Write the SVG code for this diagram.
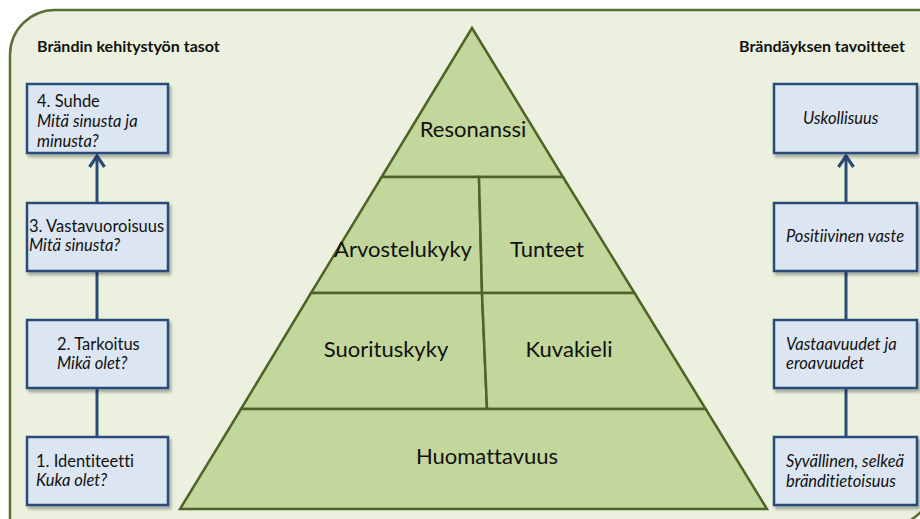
<svg xmlns="http://www.w3.org/2000/svg" width="920" height="519" viewBox="0 0 920 519">
  <defs>
    <style>
      .panel { fill: #EBF1DE; stroke: #5A7030; stroke-width: 2.5; }
      .tier { fill: #C3D69B; stroke: #4F6228; stroke-width: 2.5; stroke-linejoin: miter; }
      .box { fill: #DCE6F2; stroke: #2B4B77; stroke-width: 2.5; filter: url(#shadow); }
      .link { stroke: #2B4B77; stroke-width: 3; fill: none; }
      text { font-variant-ligatures: none; font-family: Lato, "Liberation Sans", sans-serif; fill: #111; }
      .head { font-weight: bold; font-size: 16px; }
      .txt { font-size: 16.5px; }
      .it { font-style: italic; }
      .lvl { font-size: 22px; text-anchor: middle; }
    </style>
    <filter id="shadow" x="-10%" y="-10%" width="125%" height="130%">
      <feDropShadow dx="2" dy="3" stdDeviation="1.8" flood-color="#000" flood-opacity="0.3"/>
    </filter>
    <!-- open chevron arrowhead, drawn along +x so orient="auto" turns it with the line -->
    <marker id="arrowUp" viewBox="0 0 16 18" refX="13" refY="9" markerWidth="16" markerHeight="18" markerUnits="userSpaceOnUse" orient="auto">
      <path d="M2,1.5 L13,9 L2,16.5" fill="none" stroke="#2B4B77" stroke-width="3.2"/>
    </marker>
  </defs>

  <!-- background panel with diagonal rounded corners -->
  <path class="panel" d="M10,55 A45,45 0 0 1 55,10 L935,10 L935,477 A50,50 0 0 1 885,527 L10,527 Z"/>

  <!-- column headings -->
  <g id="heading-left"><text class="head" x="37" y="52">Brändin kehitystyön tasot</text></g>
  <g id="heading-right"><text class="head" x="905" y="52" text-anchor="end">Brändäyksen tavoitteet</text></g>

  <!-- connectors -->
  <g id="connectors">
    <line class="link" x1="97" y1="203" x2="97" y2="156" marker-end="url(#arrowUp)"/>
    <line class="link" x1="97" y1="271" x2="97" y2="320"/>
    <line class="link" x1="97" y1="388" x2="97" y2="437"/>
    <line class="link" x1="846" y1="203" x2="846" y2="156" marker-end="url(#arrowUp)"/>
    <line class="link" x1="846" y1="271" x2="846" y2="320"/>
    <line class="link" x1="846" y1="385" x2="846" y2="437"/>
  </g>

  <!-- pyramid tiers -->
  <g id="tier-resonanssi">
    <polygon class="tier" points="472,28 563,177 381.6,177"/>
    <text class="lvl" x="473" y="137">Resonanssi</text>
  </g>
  <g id="tier-arvostelukyky">
    <polygon class="tier" points="381.6,177 479,177 482,293 311,293"/>
    <text class="lvl" x="403" y="257">Arvostelukyky</text>
  </g>
  <g id="tier-tunteet">
    <polygon class="tier" points="479,177 563,177 634.5,293 482,293"/>
    <text class="lvl" x="547" y="257">Tunteet</text>
  </g>
  <g id="tier-suorituskyky">
    <polygon class="tier" points="311,293 482,293 487,409 241,409"/>
    <text class="lvl" x="386" y="357">Suorituskyky</text>
  </g>
  <g id="tier-kuvakieli">
    <polygon class="tier" points="482,293 634.5,293 705.7,409 487,409"/>
    <text class="lvl" x="569" y="357">Kuvakieli</text>
  </g>
  <g id="tier-huomattavuus">
    <polygon class="tier" points="241,409 705.7,409 767,509 180,509"/>
    <text class="lvl" x="487" y="464">Huomattavuus</text>
  </g>

  <!-- left column: levels -->
  <g id="level-4">
    <rect class="box" x="27" y="84" width="141" height="69"/>
    <text class="txt" x="37" y="107">4. Suhde</text>
    <text class="txt it" x="37" y="127">Mitä sinusta ja</text>
    <text class="txt it" x="37" y="147">minusta?</text>
  </g>
  <g id="level-3">
    <rect class="box" x="27" y="203" width="141" height="68"/>
    <text class="txt" x="29" y="232">3. Vastavuoroisuus</text>
    <text class="txt it" x="29" y="251">Mitä sinusta?</text>
  </g>
  <g id="level-2">
    <rect class="box" x="27" y="320" width="141" height="68"/>
    <text class="txt" x="57" y="350">2. Tarkoitus</text>
    <text class="txt it" x="57" y="369">Mikä olet?</text>
  </g>
  <g id="level-1">
    <rect class="box" x="27" y="437" width="141" height="68"/>
    <text class="txt" x="36" y="467">1. Identiteetti</text>
    <text class="txt it" x="36" y="486">Kuka olet?</text>
  </g>

  <!-- right column: goals -->
  <g id="goal-4">
    <rect class="box" x="774" y="84" width="143" height="69"/>
    <text class="txt it" x="803" y="124">Uskollisuus</text>
  </g>
  <g id="goal-3">
    <rect class="box" x="774" y="203" width="143" height="68"/>
    <text class="txt it" x="786" y="242">Positiivinen vaste</text>
  </g>
  <g id="goal-2">
    <rect class="box" x="774" y="320" width="143" height="68"/>
    <text class="txt it" x="786" y="350">Vastaavuudet ja</text>
    <text class="txt it" x="786" y="369">eroavuudet</text>
  </g>
  <g id="goal-1">
    <rect class="box" x="774" y="437" width="143" height="68"/>
    <text class="txt it" x="786" y="467">Syvällinen, selkeä</text>
    <text class="txt it" x="786" y="487">bränditietoisuus</text>
  </g>
</svg>
